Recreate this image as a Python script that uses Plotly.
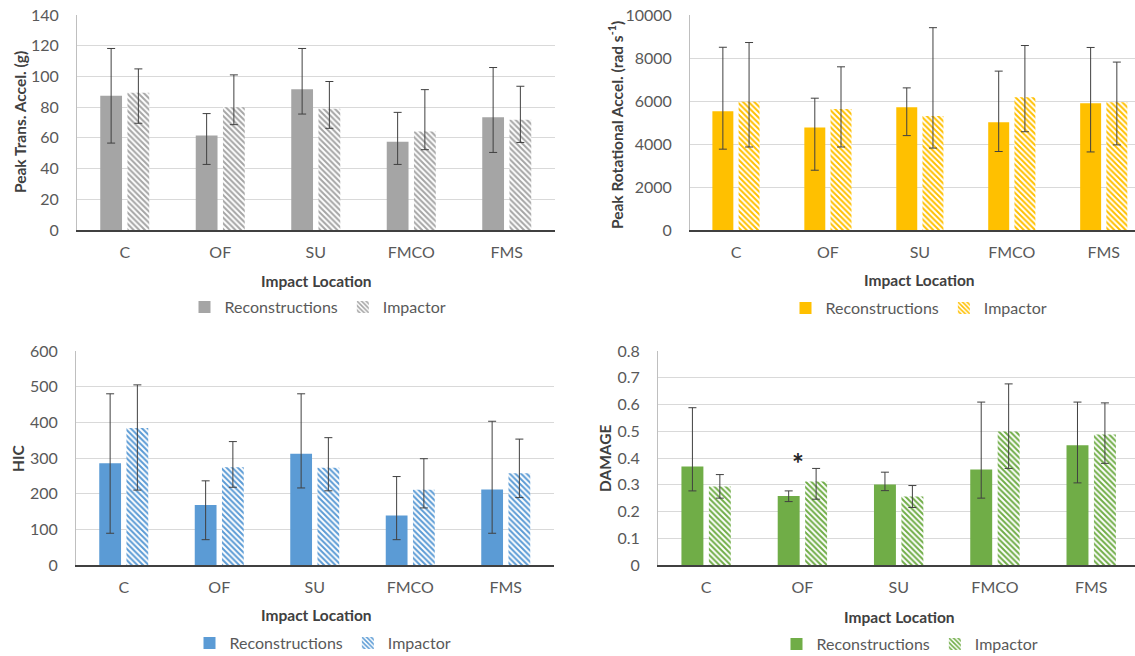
import plotly.graph_objects as go

categories = ["C", "OF", "SU", "FMCO", "FMS"]
series_names = ["Reconstructions", "Impactor"]

# Peak translational acceleration (g)
trans_rec = [87.5, 61.6, 91.7, 57.5, 73.4]
trans_rec_hi = [118.2, 75.8, 118.2, 76.6, 105.8]
trans_rec_lo = [56.6, 42.7, 75.5, 42.7, 50.5]
trans_imp = [89.3, 79.9, 79.0, 64.2, 71.8]
trans_imp_hi = [104.9, 101.0, 96.7, 91.4, 93.6]
trans_imp_lo = [69.5, 68.6, 66.2, 52.3, 57.0]

# Peak rotational acceleration (rad s^-1)
rot_rec = [5520, 4770, 5710, 5010, 5900]
rot_rec_hi = [8500, 6130, 6610, 7390, 8490]
rot_rec_lo = [3760, 2780, 4390, 3650, 3630]
rot_imp = [5970, 5630, 5300, 6170, 5940]
rot_imp_hi = [8720, 7590, 9410, 8580, 7810]
rot_imp_lo = [3860, 3860, 3810, 4570, 3960]

# HIC
hic_rec = [285, 168, 312, 139, 212]
hic_rec_hi = [480, 236, 480, 248, 403]
hic_rec_lo = [89, 71, 216, 71, 89]
hic_imp = [384, 274, 273, 211, 257]
hic_imp_hi = [505, 346, 357, 298, 353]
hic_imp_lo = [210, 218, 208, 160, 189]

# DAMAGE
dmg_rec = [0.368, 0.258, 0.301, 0.357, 0.448]
dmg_rec_hi = [0.588, 0.277, 0.347, 0.609, 0.609]
dmg_rec_lo = [0.277, 0.237, 0.278, 0.250, 0.307]
dmg_imp = [0.293, 0.312, 0.256, 0.499, 0.488]
dmg_imp_hi = [0.338, 0.361, 0.297, 0.677, 0.606]
dmg_imp_lo = [0.250, 0.246, 0.215, 0.361, 0.380]

y_titles = ["Peak Trans. Accel. (g)", "Peak Rotational Accel. (rad s<sup>-1</sup>)", "HIC", "DAMAGE"]
x_title = "Impact Location"
y_ranges = [[0, 140], [0, 10000], [0, 600], [0, 0.8]]
y_dticks = [20, 2000, 100, 0.1]
y_formats = ["d", "d", "d", ""]
colors = ["#A5A5A5", "#FFC000", "#5B9BD5", "#70AD47"]

panels = [
    (trans_rec, trans_rec_hi, trans_rec_lo, trans_imp, trans_imp_hi, trans_imp_lo),
    (rot_rec, rot_rec_hi, rot_rec_lo, rot_imp, rot_imp_hi, rot_imp_lo),
    (hic_rec, hic_rec_hi, hic_rec_lo, hic_imp, hic_imp_hi, hic_imp_lo),
    (dmg_rec, dmg_rec_hi, dmg_rec_lo, dmg_imp, dmg_imp_hi, dmg_imp_lo),
]

W, H = 1135, 656
FONT = "Lato, 'Open Sans', sans-serif"
TXT = "#595959"

# pixel layout of the four plot areas: (left, right, top, bottom), x-range end
areas = [
    (77, 554.5, 15, 230, 4.5),
    (690, 1135, 15, 230, 4.34),
    (76, 553.5, 351, 565, 4.5),
    (658, 1135, 351, 565, 4.455),
]

fig = go.Figure()

def err(vals, hi, lo):
    plus = [h - v for v, h in zip(vals, hi)]
    minus = [v - l for v, l in zip(vals, lo)]
    return dict(type="data", symmetric=False, array=plus, arrayminus=minus,
                color="#404040", thickness=1, width=4)

legend_pos = [(318, 307), (919, 308), (323, 643), (910, 644)]
xtitle_pos = [(316, 281), (919, 280), (316, 615), (899, 617)]
ytitle_pos = [(20, 122), (615, 125), (18, 458), (605, 458)]

annotations = []
for i, (panel, color) in enumerate(zip(panels, colors)):
    rec, rec_hi, rec_lo, imp, imp_hi, imp_lo = panel
    sfx = "" if i == 0 else str(i + 1)
    xa, ya = "x" + sfx, "y" + sfx
    lg = "legend" + sfx
    fig.add_trace(go.Bar(
        x=categories, y=rec, name=series_names[0], xaxis=xa, yaxis=ya, legend=lg,
        marker=dict(color=color, line=dict(width=0)),
        error_y=err(rec, rec_hi, rec_lo), offsetgroup="a",
    ))
    fig.add_trace(go.Bar(
        x=categories, y=imp, name=series_names[1], xaxis=xa, yaxis=ya, legend=lg,
        marker=dict(color=color, line=dict(width=0),
                    pattern=dict(shape="\\", fgcolor=color, bgcolor="white",
                                 size=4, solidity=0.5, fillmode="replace")),
        error_y=err(imp, imp_hi, imp_lo), offsetgroup="b",
    ))
    l, r, t, b, xend = areas[i]
    fig.layout["xaxis" + sfx] = dict(
        domain=[l / W, r / W], anchor=ya, range=[-0.5, xend], automargin=False,
        showgrid=False, showline=True, linecolor="#404040", linewidth=1.5,
        ticks="", ticklabelstandoff=7,
        tickfont=dict(family=FONT, size=16, color=TXT), fixedrange=True,
    )
    fig.layout["yaxis" + sfx] = dict(
        domain=[1 - b / H, 1 - t / H], anchor=xa, range=y_ranges[i], dtick=y_dticks[i],
        tickformat=y_formats[i], automargin=False,
        showgrid=True, gridcolor="#D9D9D9", gridwidth=1,
        showline=True, linecolor="#BFBFBF", linewidth=1, zeroline=False,
        ticks="", ticklabelstandoff=14,
        tickfont=dict(family=FONT, size=16, color=TXT), fixedrange=True,
    )
    lx, ly = legend_pos[i]
    fig.layout[lg] = dict(
        x=lx / W, y=1 - ly / H, xanchor="center", yanchor="middle",
        orientation="h", font=dict(family=FONT, size=16, color=TXT),
        bgcolor="rgba(0,0,0,0)", itemclick=False, itemdoubleclick=False,
        traceorder="normal",
    )
    tx, ty = xtitle_pos[i]
    annotations.append(dict(
        text="<b>" + x_title + "</b>", x=tx / W, y=1 - ty / H, xref="paper", yref="paper",
        showarrow=False, xanchor="center", yanchor="middle",
        font=dict(family=FONT, size=15.5, color="#404040"),
    ))
    yx, yy = ytitle_pos[i]
    annotations.append(dict(
        text="<b>" + y_titles[i] + "</b>", x=yx / W, y=1 - yy / H, xref="paper", yref="paper",
        showarrow=False, xanchor="center", yanchor="middle", textangle=-90,
        font=dict(family=FONT, size=15.5, color="#404040"),
    ))

# significance marker above OF reconstructions (DAMAGE panel)
annotations.append(dict(
    text="<b>*</b>", x="OF", y=0.38, xref="x4", yref="y4", xshift=-4,
    showarrow=False, xanchor="center", yanchor="middle",
    font=dict(family=FONT, size=28, color="#262626"),
))

fig.update_layout(
    width=W, height=H, margin=dict(l=0, r=0, t=0, b=0, autoexpand=False),
    paper_bgcolor="white", plot_bgcolor="white",
    barmode="group", bargap=0.43, bargroupgap=0.2,
    annotations=annotations, showlegend=True,
    font=dict(family=FONT, size=16, color=TXT),
)

fig.write_html("out.html", config={"displayModeBar": False},
               post_script="document.body.style.margin='0';document.body.style.overflow='hidden';")
